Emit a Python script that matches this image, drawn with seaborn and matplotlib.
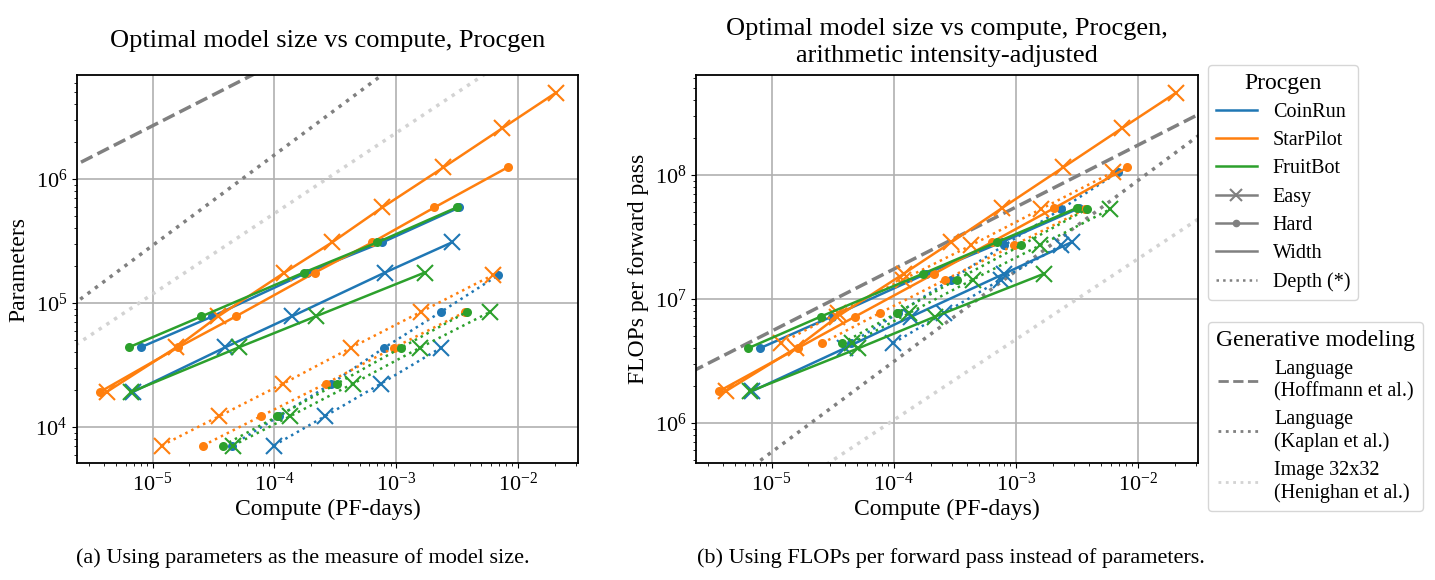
import matplotlib
matplotlib.use("Agg")
import matplotlib.pyplot as plt
from matplotlib.lines import Line2D
import numpy as np
import pandas as pd
import seaborn as sns

games = ["CoinRun", "StarPilot", "FruitBot"]
game_colors = ["#1f77b4", "#ff7f0e", "#2ca02c"]

# model sizes of the width-scaled and depth-scaled networks
width_params = [1.92e4, 4.4e4, 7.8e4, 1.76e5, 3.08e5, 5.9e5, 1.24e6, 2.56e6, 4.97e6]
width_flops = [1.8e6, 4.0e6, 7.2e6, 1.6e7, 2.87e7, 5.4e7, 1.15e8, 2.38e8, 4.6e8]
depth_params = [7.1e3, 1.22e4, 2.24e4, 4.37e4, 8.5e4, 1.68e5]
depth_flops = [4.4e6, 7.7e6, 1.43e7, 2.7e7, 5.3e7, 1.05e8]

# compute of the optimal points (PF-days); *_first = index of first model size
easy_width_compute = {
    "CoinRun": [6.9e-6, 3.96e-5, 1.39e-4, 8.07e-4, 2.86e-3],
    "StarPilot": [4.2e-6, 1.57e-5, 3.45e-5, 1.21e-4, 2.97e-4, 7.7e-4,
                  2.44e-3, 7.4e-3, 2.05e-2],
    "FruitBot": [6.7e-6, 5.13e-5, 2.18e-4, 1.71e-3],
}
easy_width_first = {"CoinRun": 0, "StarPilot": 0, "FruitBot": 0}

hard_width_compute = {
    "CoinRun": [8.0e-6, 3.1e-5, 1.85e-4, 7.67e-4, 3.3e-3],
    "StarPilot": [3.7e-6, 1.63e-5, 4.82e-5, 2.15e-4, 6.35e-4, 2.06e-3, 8.2e-3],
    "FruitBot": [6.4e-6, 2.52e-5, 1.74e-4, 6.98e-4, 3.14e-3],
}
hard_width_first = {"CoinRun": 1, "StarPilot": 0, "FruitBot": 1}

easy_depth_compute = {
    "CoinRun": [9.9e-5, 2.59e-4, 7.5e-4, 2.34e-3],
    "StarPilot": [1.19e-5, 3.5e-5, 1.18e-4, 4.28e-4, 1.6e-3, 6.2e-3],
    "FruitBot": [4.58e-5, 1.34e-4, 4.42e-4, 1.57e-3, 5.93e-3],
}
easy_depth_first = {"CoinRun": 0, "StarPilot": 0, "FruitBot": 0}

hard_depth_compute = {
    "CoinRun": [4.45e-5, 1.09e-4, 2.93e-4, 8.0e-4, 2.34e-3, 6.9e-3],
    "StarPilot": [2.6e-5, 7.7e-5, 2.64e-4, 9.57e-4, 3.7e-3],
    "FruitBot": [3.8e-5, 1.06e-4, 3.27e-4, 1.1e-3, 3.82e-3],
}
hard_depth_first = {"CoinRun": 0, "StarPilot": 0, "FruitBot": 0}

# generative modeling laws: size = coef * compute ** exponent
ref_labels = ["Language\n(Hoffmann et al.)", "Language\n(Kaplan et al.)",
              "Image 32x32\n(Henighan et al.)"]
ref_param_coef = [8.5e8, 1.3e9, 2.1e8]
ref_flops_coef = [1.74e9, 2.6e9, 4.2e8]
ref_exponent = [0.5, 0.73, 0.65]
ref_colors = ["#808080", "#808080", "#d3d3d3"]
ref_styles = ["--", ":", ":"]
compute_range = np.array([1e-7, 1.0])


def build_frame():
    rows = []
    series = [("Easy", "Width", easy_width_compute, easy_width_first),
              ("Hard", "Width", hard_width_compute, hard_width_first),
              ("Easy", "Depth", easy_depth_compute, easy_depth_first),
              ("Hard", "Depth", hard_depth_compute, hard_depth_first)]
    for game in games:
        for diff, scaling, compute, first in series:
            params = width_params if scaling == "Width" else depth_params
            flops = width_flops if scaling == "Width" else depth_flops
            for i, c in enumerate(compute[game]):
                k = first[game] + i
                rows.append({"game": game, "difficulty": diff,
                             "scaling": scaling, "compute": c,
                             "params": params[k], "flops": flops[k]})
    return pd.DataFrame(rows)


def draw_panel(ax, df, ycol, coefs, ylim):
    for coef, expo, col, ls in zip(coefs, ref_exponent, ref_colors, ref_styles):
        ax.plot(compute_range, coef * compute_range ** expo, color=col,
                linestyle=ls, lw=2.5)
    for (game, diff, scaling), sub in df.groupby(
            ["game", "difficulty", "scaling"], sort=False):
        color = game_colors[games.index(game)]
        easy = diff == "Easy"
        sns.lineplot(data=sub, x="compute", y=ycol, ax=ax, color=color,
                     estimator=None, sort=False, legend=False,
                     linestyle="-" if scaling == "Width" else ":", lw=1.8,
                     marker="x" if easy else "o",
                     markersize=11 if easy else 6.5,
                     markeredgewidth=1.5 if easy else 0,
                     markeredgecolor=color, markerfacecolor=color)
    ax.set_xscale("log")
    ax.set_yscale("log")
    ax.set_xlim(2.4e-6, 3.1e-2)
    ax.set_ylim(*ylim)
    ax.grid(True, which="major", color="#b0b0b0", lw=1.2)
    ax.set_axisbelow(True)
    ax.set_xlabel("Compute (PF-days)", fontsize=17, labelpad=2)
    ax.tick_params(labelsize=16)
    for s in ax.spines.values():
        s.set_linewidth(1.3)


df = build_frame()

plt.rcParams["font.family"] = ["Liberation Serif", "DejaVu Serif"]
plt.rcParams["mathtext.fontset"] = "cm"

fig = plt.figure(figsize=(14.35, 5.8), dpi=100)
ax1 = fig.add_axes([0.0537, 0.2017, 0.349, 0.669])
ax2 = fig.add_axes([0.485, 0.2017, 0.3498, 0.669])

draw_panel(ax1, df, "params", ref_param_coef, (5.13e3, 6.9e6))
draw_panel(ax2, df, "flops", ref_flops_coef, (4.75e5, 6.4e8))

ax1.set_ylabel("Parameters", fontsize=17)
ax2.set_ylabel("FLOPs per forward pass", fontsize=17)
ax1.set_title("Optimal model size vs compute, Procgen", fontsize=19, pad=20)
ax2.set_title("Optimal model size vs compute, Procgen,\n"
              "arithmetic intensity-adjusted", fontsize=19, pad=9,
              linespacing=1.3)

procgen_handles = [Line2D([], [], color=c, lw=1.8) for c in game_colors]
procgen_handles += [
    Line2D([], [], color="gray", lw=1.8, marker="x", ms=8, mew=1.5),
    Line2D([], [], color="gray", lw=1.8, marker="o", ms=4.5),
    Line2D([], [], color="gray", lw=1.8),
    Line2D([], [], color="gray", lw=1.8, linestyle=":"),
]
procgen_labels = games + ["Easy", "Hard", "Width", "Depth (*)"]
leg1 = fig.legend(procgen_handles, procgen_labels, title="Procgen",
                  loc="upper left", bbox_to_anchor=(0.842, 0.888),
                  fontsize=14.5, title_fontsize=17, handlelength=2,
                  labelspacing=0.45, borderaxespad=0)

ref_handles = [Line2D([], [], color=c, linestyle=ls, lw=2)
               for c, ls in zip(ref_colors, ref_styles)]
leg2 = fig.legend(ref_handles, ref_labels, title="Generative modeling",
                  loc="upper left", bbox_to_anchor=(0.842, 0.445),
                  fontsize=14.5, title_fontsize=17, handlelength=2,
                  labelspacing=0.45, borderaxespad=0)

fig.text(0.211, 0.03, "(a) Using parameters as the measure of model size.",
         ha="center", fontsize=16)
fig.text(0.663, 0.03,
         "(b) Using FLOPs per forward pass instead of parameters.",
         ha="center", fontsize=16)

fig.savefig("out.png", dpi=100)
